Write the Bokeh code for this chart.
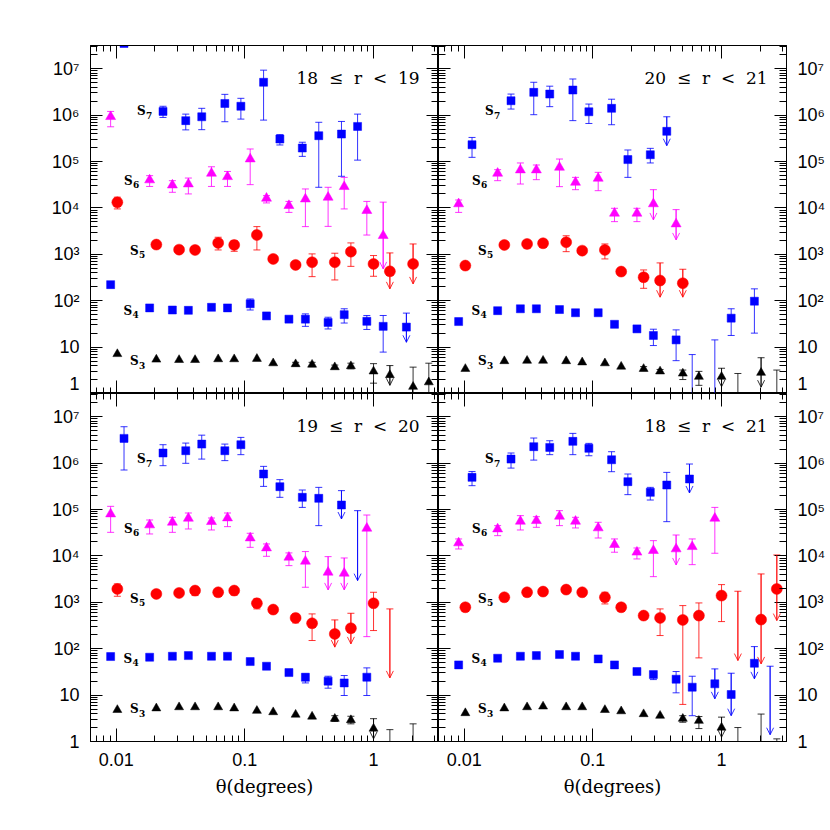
import math
from bokeh.plotting import figure
from bokeh.layouts import gridplot
from bokeh.models import (LogAxis, FixedTicker, CustomJSTickFormatter, Range1d,
                          Arrow, OpenHead, ColumnDataSource, Label)
from bokeh.core.properties import value
from bokeh.embed import file_html
from bokeh.resources import INLINE

# ---------------- data ----------------
# angular bins (degrees)
THETA_BINS = [0.0102, 0.0205, 0.0308, 0.041, 0.062, 0.0826, 0.124, 0.166,
              0.248, 0.333, 0.50, 0.667, 1.0, 1.34, 2.03, 2.69]

X_TICKS = [0.01, 0.1, 1.0]
Y_TICKS = [1, 10, 100, 1e3, 1e4, 1e5, 1e6, 1e7]
SERIES_ORDERS = [3, 4, 5, 6, 7]
PANEL_TITLES = ["18\u00a0 \u2264\u00a0 r\u00a0 <\u00a0 19", "20\u00a0 \u2264\u00a0 r\u00a0 <\u00a0 21",
                "19\u00a0 \u2264\u00a0 r\u00a0 <\u00a0 20", "18\u00a0 \u2264\u00a0 r\u00a0 <\u00a0 21"]
X_TITLE = "\u03b8(degrees)"

# rows: (bin index, S_N value [None = off scale], lower, upper, upper-limit flag)
# for upper limits "lower" is the tip of the arrow
TL_S3 = [(0, 7.1, None, None, 0), (1, 5.4, None, None, 0), (2, 5.3, None, None, 0),
         (3, 5.3, None, None, 0), (4, 5.5, None, None, 0), (5, 5.5, None, None, 0),
         (6, 5.6, None, None, 0), (7, 4.5, None, None, 0), (8, 4.3, 3.9, 4.7, 0),
         (9, 4.2, 3.8, 4.7, 0), (10, 3.7, 3.4, 4.1, 0), (11, 3.9, 3.4, 4.5, 0),
         (12, 3.0, 1.67, 4.4, 0), (13, 2.5, 1.5, 4.0, 1), (14, 1.4, 0.3, 3.7, 0),
         (15, 1.75, 0.3, 4.5, 0)]
TL_S4 = [(0, 222, None, None, 0), (1, 70, None, None, 0), (2, 63, None, None, 0),
         (3, 62, None, None, 0), (4, 72, None, None, 0), (5, 70, None, None, 0),
         (6, 86, 63, 109, 0), (7, 47, None, None, 0), (8, 40, None, None, 0),
         (9, 40, 28, 52, 0), (10, 34, 24.6, 44, 0), (11, 50, 33, 67, 0),
         (12, 36, 24, 48, 0), (13, 28, 7.8, 48, 0), (14, 27, 12.7, 54, 1)]
TL_S5 = [(0, 13200, 9500, 17000, 0), (1, 1620, None, None, 0), (2, 1260, None, None, 0),
         (3, 1240, None, None, 0), (4, 1760, 1240, 2330, 0), (5, 1590, 1160, 1970, 0),
         (6, 2610, 1240, 3950, 0), (7, 795, None, None, 0), (8, 590, None, None, 0),
         (9, 675, 330, 1020, 0), (10, 675, 280, 1055, 0), (11, 1140, 550, 1760, 0),
         (12, 620, 336, 940, 0), (13, 430, 180, 1070, 1), (14, 620, 230, 1670, 1)]
TL_S6 = [(0, 925000, 560000, 1.2e6, 0), (1, 40000, 29000, 49500, 0),
         (2, 31000, 21700, 38600, 0), (3, 32700, 20000, 44000, 0),
         (4, 55600, 29000, 77000, 0), (5, 47000, 29000, 61000, 0),
         (6, 113000, 31700, 186000, 0), (7, 16100, 12800, 18400, 0),
         (8, 11200, 8000, 13800, 0), (9, 15500, 3950, 25600, 0),
         (10, 16900, 4000, 27800, 0), (11, 28700, 9500, 45500, 0),
         (12, 8750, 2600, 13800, 0), (13, 2520, 485, 13300, 1)]
TL_S7 = [(0, 3.5e7, None, None, 0), (1, 1.2e6, 8.9e5, 1.55e6, 0),
         (2, 7.6e5, 4.8e5, 1.05e6, 0), (3, 9.2e5, 4.85e5, 1.4e6, 0),
         (4, 1.78e6, 7.2e5, 2.8e6, 0), (5, 1.55e6, 8.2e5, 2.3e6, 0),
         (6, 5.1e6, 7.8e5, 9.3e6, 0), (7, 3.05e5, 2.27e5, 3.8e5, 0),
         (8, 1.95e5, 1.29e5, 2.6e5, 0), (9, 3.6e5, 27800, 7e5, 0),
         (10, 3.9e5, 48000, 7.3e5, 0), (11, 5.7e5, 1.07e5, 1.05e6, 0)]

TR_S3 = [(0, 3.4, None, None, 0), (1, 5.0, None, None, 0), (2, 5.1, None, None, 0),
         (3, 5.1, None, None, 0), (4, 5.0, None, None, 0), (5, 4.7, None, None, 0),
         (6, 4.5, None, None, 0), (7, 3.8, None, None, 0), (8, 3.4, 3.1, 3.8, 0),
         (9, 3.0, 2.7, 3.3, 0), (10, 2.7, 2.0, 3.2, 0), (11, 2.3, 1.5, 3.0, 0),
         (12, 2.3, 1.4, 3.5, 1), (13, None, 0.3, 2.7, 0), (14, 2.8, 1.37, 5.9, 1),
         (15, None, 0.3, 3.2, 0)]
TR_S4 = [(0, 35.5, None, None, 0), (1, 61, None, None, 0), (2, 67, None, None, 0),
         (3, 67, None, None, 0), (4, 64.5, None, None, 0), (5, 55, None, None, 0),
         (6, 55, 50, 61, 0), (7, 31, None, None, 0), (8, 24.7, None, None, 0),
         (9, 17.8, 10.8, 24.3, 0), (10, 14.3, 5.1, 23.5, 0), (11, None, 0.3, 6.9, 0),
         (12, None, 0.3, 14.3, 0), (13, 42, 17.8, 67, 0), (14, 97.5, 20, 180, 0)]
TR_S5 = [(0, 571, None, None, 0), (1, 1590, None, None, 0), (2, 1670, 1350, 1950, 0),
         (3, 1730, None, None, 0), (4, 1820, 1140, 2510, 0), (5, 1200, None, None, 0),
         (6, 1240, 795, 1670, 0), (7, 424, None, None, 0), (8, 320, 185, 460, 0),
         (9, 272, 119, 652, 1), (10, 238, 119, 476, 1)]
TR_S6 = [(0, 12200, 8000, 14800, 0), (1, 55600, 38600, 66700, 0),
         (2, 65600, 32700, 93000, 0), (3, 65600, 40600, 84000, 0),
         (4, 74800, 28700, 113000, 0), (5, 35500, 24700, 45500, 0),
         (6, 43400, 23500, 58400, 0), (7, 7650, 5060, 9800, 0),
         (8, 7650, 5060, 9800, 0), (9, 12200, 5500, 24700, 1),
         (10, 4500, 2040, 9180, 1)]
TR_S7 = [(0, 2.3e5, 1.23e5, 3.3e5, 0), (1, 2.04e6, 1.35e6, 2.84e6, 0),
         (2, 3.09e6, 1.02e6, 5.1e6, 0), (3, 2.84e6, 1.52e6, 4.2e6, 0),
         (4, 3.47e6, 7.6e5, 6e6, 0), (5, 1.18e6, 6.6e5, 1.73e6, 0),
         (6, 1.4e6, 6.2e5, 2.2e6, 0), (7, 1.1e5, 45500, 1.77e5, 0),
         (8, 1.4e5, 93000, 1.92e5, 0), (9, 4.47e5, 2.19e5, 9.2e5, 1)]

BL_S3 = [(0, 4.8, None, None, 0), (1, 5.2, None, None, 0), (2, 5.5, None, None, 0),
         (3, 5.5, None, None, 0), (4, 5.5, None, None, 0), (5, 5.2, None, None, 0),
         (6, 4.6, None, None, 0), (7, 4.3, None, None, 0), (8, 3.8, None, None, 0),
         (9, 3.45, None, None, 0), (10, 3.1, 2.7, 3.6, 0), (11, 2.9, 2.4, 3.5, 0),
         (12, 1.9, 1.14, 3.1, 1), (13, None, 0.3, 1.8, 0), (14, None, 0.3, 2.4, 0)]
BL_S4 = [(0, 67.7, None, None, 0), (1, 65.5, None, None, 0), (2, 68.8, None, None, 0),
         (3, 71, None, None, 0), (4, 68.8, None, None, 0), (5, 68.8, None, None, 0),
         (6, 52.8, None, None, 0), (7, 41.9, None, None, 0), (8, 30.6, None, None, 0),
         (9, 24.3, 18.3, 28.7, 0), (10, 20, 14.1, 25.5, 0), (11, 18.3, 9.8, 26.4, 0),
         (12, 24.3, 9.8, 38.6, 0)]
BL_S5 = [(0, 1940, 1350, 2490, 0), (1, 1515, None, None, 0), (2, 1590, None, None, 0),
         (3, 1790, 1395, 2110, 0), (4, 1645, None, None, 0), (5, 1790, 1430, 2110, 0),
         (6, 953, 720, 1180, 0), (7, 697, None, None, 0), (8, 461, 360, 562, 0),
         (9, 353, 150, 562, 0), (10, 208, 108, 417, 1), (11, 276, 127, 580, 1),
         (12, 953, 246, 1645, 0), (13, None, 23.5, 720, 1)]
BL_S6 = [(0, 80000, 32200, 117000, 0), (1, 46400, 29700, 59400, 0),
         (2, 53000, 32200, 67800, 0), (3, 64600, 38000, 84100, 0),
         (4, 54700, 36200, 65600, 0), (5, 65600, 42700, 84100, 0),
         (6, 24300, 15300, 30700, 0), (7, 14800, 9800, 18100, 0),
         (8, 9330, 6170, 11600, 0), (9, 7650, 2110, 12400, 0),
         (10, 4440, 1850, 9640, 1), (11, 4220, 1850, 9020, 1),
         (12, 39300, 182, 76000, 0)]
BL_S7 = [(0, 3.41e6, 7.1e5, 6.08e6, 0), (1, 1.65e6, 8.8e5, 2.49e6, 0),
         (2, 1.85e6, 9.9e5, 2.7e6, 0), (3, 2.57e6, 1.22e6, 4.0e6, 0),
         (4, 1.85e6, 1.13e6, 2.57e6, 0), (5, 2.49e6, 1.52e6, 3.58e6, 0),
         (6, 5.82e5, 3.15e5, 8.5e5, 0), (7, 3.1e5, 1.83e5, 4.4e5, 0),
         (8, 1.83e5, 1.11e5, 2.63e5, 0), (9, 1.74e5, 44900, 3.0e5, 0),
         (10, 1.25e5, 62400, 2.55e5, 1), (11, None, 2930, 94400, 1)]

BR_S3 = [(0, 4.1, None, None, 0), (1, 5.2, None, None, 0), (2, 5.5, None, None, 0),
         (3, 5.7, None, None, 0), (4, 5.5, None, None, 0), (5, 5.5, None, None, 0),
         (6, 4.8, None, None, 0), (7, 4.5, None, None, 0), (8, 3.9, None, None, 0),
         (9, 3.6, None, None, 0), (10, 3.1, 2.6, 3.6, 0), (11, 2.8, 1.9, 3.45, 0),
         (12, 2.0, 1.24, 3.35, 1), (13, None, 0.3, 2.0, 0), (14, None, 0.3, 3.9, 0),
         (15, None, 0.3, 1.14, 0)]
BR_S4 = [(0, 44.8, None, None, 0), (1, 62.3, None, None, 0), (2, 68.8, None, None, 0),
         (3, 71, None, None, 0), (4, 74.8, None, None, 0), (5, 68.8, None, None, 0),
         (6, 60.3, None, None, 0), (7, 44.8, None, None, 0), (8, 32.2, None, None, 0),
         (9, 27.7, 21.6, 32.2, 0), (10, 22, 11.2, 32.2, 0), (11, 14.8, 3.6, 25.5, 0),
         (12, 17.5, 8.3, 36.7, 1), (13, 10.3, 3.6, 29.6, 1), (14, 48.6, 22.4, 111, 1),
         (15, None, 1.4, 41.9, 1)]
BR_S5 = [(0, 782, None, None, 0), (1, 1283, None, None, 0), (2, 1645, None, None, 0),
         (3, 1700, None, None, 0), (4, 1878, None, None, 0), (5, 1645, None, None, 0),
         (6, 1283, 922, 1645, 0), (7, 782, None, None, 0), (8, 517, 440, 600, 0),
         (9, 461, 192, 720, 0), (10, 417, 6.3, 849, 0), (11, 517, 63.4, 969, 0),
         (12, 1393, 384, 2405, 0), (13, None, 55.5, 1730, 1), (14, 424, 47, 4083, 1),
         (15, 1940, 404, 10470, 1)]
BR_S6 = [(0, 19000, 14100, 23200, 0), (1, 38000, 27300, 44900, 0),
         (2, 55600, 36200, 73700, 0), (3, 57500, 41300, 70100, 0),
         (4, 71300, 44900, 94400, 0), (5, 55600, 40000, 67800, 0),
         (6, 40000, 24300, 53000, 0), (7, 17500, 12000, 23200, 0),
         (8, 12000, 8600, 14800, 0), (9, 13000, 3570, 21300, 0),
         (10, 14100, 6380, 28200, 1), (11, 15800, 6480, 23200, 0),
         (12, 64500, 11400, 111000, 0)]
BR_S7 = [(0, 4.93e5, 3.26e5, 6.6e5, 0), (1, 1.22e6, 7.8e5, 1.65e6, 0),
         (2, 2.26e6, 1.16e6, 3.47e6, 0), (3, 2.18e6, 1.52e6, 3.03e6, 0),
         (4, 2.94e6, 1.52e6, 4.37e6, 0), (5, 2.08e6, 1.44e6, 2.66e6, 0),
         (6, 1.18e6, 6.53e5, 1.76e6, 0), (7, 3.98e5, 2.09e5, 5.82e5, 0),
         (8, 2.34e5, 1.6e5, 3.0e5, 0), (9, 3.37e5, 54700, 6.31e5, 0),
         (10, 4.54e5, 2.27e5, 9.55e5, 1)]

# series-name label anchors (theta, value) for S3..S7
LABEL_THETA = [0.0128, 0.0114, 0.0128, 0.0115, 0.0145]
LABEL_VALUE = [10**0.69, 10**1.78, 10**3.08, 10**4.58, 10**6.08]
TITLE_THETA = 2.28
TITLE_VALUE = 10**6.81

# ---------------- styles ----------------
X_RANGE = (10**-2.2, 10**0.505)
Y_RANGE = (1.0, 10**7.5)
X_SHIFT = {3: 1.0, 4: 0.887, 5: 1.0, 6: 0.887, 7: 1.127}
STYLE = {3: dict(marker="triangle", color="#000000", size=9),
         4: dict(marker="square", color="#0000ff", size=8),
         5: dict(marker="circle", color="#ff0000", size=11),
         6: dict(marker="triangle", color="#ff00ff", size=10),
         7: dict(marker="square", color="#0000ff", size=8)}
SANS = "Liberation Sans"
SERIF = "DejaVu Serif"

X_MINOR = [m * 10.0**k for k in (-3, -2, -1, 0) for m in range(2, 10)
           if X_RANGE[0] <= m * 10.0**k <= X_RANGE[1]]
Y_MINOR = [m * 10.0**k for k in range(0, 8) for m in range(2, 10)
           if m * 10.0**k <= Y_RANGE[1]]

Y_FMT = CustomJSTickFormatter(code="""
const e = Math.round(Math.log10(tick));
const sup = ["\u2070","\u00b9","\u00b2","\u00b3","\u2074","\u2075","\u2076","\u2077","\u2078","\u2079"];
if (e === 0) return "1";
if (e === 1) return "10";
return "10" + sup[e];
""")
X_FMT = CustomJSTickFormatter(code="""
if (tick >= 1) return tick.toFixed(0);
return String(parseFloat(tick.toPrecision(2)));
""")


def add_axis(p, dim, side, labeled):
    if dim == "x":
        ax = LogAxis(ticker=FixedTicker(ticks=X_TICKS, minor_ticks=X_MINOR))
        ax.major_tick_in, ax.minor_tick_in = 13, 6
    else:
        ax = LogAxis(ticker=FixedTicker(ticks=Y_TICKS, minor_ticks=Y_MINOR))
        ax.major_tick_in, ax.minor_tick_in = 12, 7
    ax.major_tick_out = 0
    ax.minor_tick_out = 0
    ax.axis_line_color = "black"
    ax.major_tick_line_color = "black"
    ax.minor_tick_line_color = "black"
    if labeled:
        ax.formatter = X_FMT if dim == "x" else Y_FMT
        ax.major_label_text_font = SANS
        ax.major_label_text_font_size = "18px"
        ax.major_label_text_color = "black"
        ax.major_label_standoff = 11
        if dim == "x":
            ax.axis_label = X_TITLE
            ax.axis_label_text_font = SERIF
            ax.axis_label_text_font_size = "18px"
            ax.axis_label_text_font_style = "normal"
            ax.axis_label_text_color = "black"
            ax.axis_label_standoff = 7
    else:
        ax.major_label_text_font_size = "0px"
        ax.major_label_standoff = 0
        ax.formatter = CustomJSTickFormatter(code="return '';")
    p.add_layout(ax, side)


def draw_series(p, rows, order):
    st = STYLE[order]
    c = st["color"]
    mx, mv = [], []
    bx, blo, bhi = [], [], []
    cx, cy = [], []
    ax_, ahi, atip = [], [], []
    for (i, v, lo, hi, lim) in rows:
        x = THETA_BINS[i] * X_SHIFT[order]
        if v is not None:
            mx.append(x)
            mv.append(v)
        if hi is None:
            continue
        bx.append(x); blo.append(lo); bhi.append(hi)
        cx.append(x); cy.append(hi)
        if lim:
            ax_.append(x); ahi.append(hi); atip.append(lo)
        else:
            cx.append(x); cy.append(lo)
    if bx:
        p.segment(x0=bx, y0=blo, x1=bx, y1=bhi, line_color=c, line_width=1, line_alpha=0.8)
        p.scatter(x=cx, y=cy, marker="dash", size=7, line_color=c, line_width=1, line_alpha=0.8)
    if ax_:
        src = ColumnDataSource(dict(x=ax_, hi=ahi, tip=atip))
        p.add_layout(Arrow(x_start="x", y_start="hi", x_end="x", y_end="tip", source=src,
                           line_color=c, line_alpha=0.8, line_width=1,
                           end=OpenHead(size=7, line_color=c, line_alpha=0.8, line_width=1)))
    if mx:
        p.scatter(x=mx, y=mv, marker=st["marker"], size=st["size"],
                  fill_color=c, line_color=c, line_width=0.5)


def make_panel(title, data, left, bottom):
    p = figure(frame_width=348, frame_height=348,
               x_axis_type="log", y_axis_type="log",
               x_range=Range1d(*X_RANGE), y_range=Range1d(*Y_RANGE),
               x_axis_location=None, y_axis_location=None,
               output_backend="svg", toolbar_location=None, tools="",
               min_border_left=90 if left else 0, min_border_right=0 if left else 40,
               min_border_top=0 if bottom else 45, min_border_bottom=70 if bottom else 0)
    p.xgrid.grid_line_color = None
    p.ygrid.grid_line_color = None
    p.outline_line_color = "black"
    p.outline_line_width = 1
    p.outline_line_alpha = 1
    p.background_fill_color = "white"
    p.border_fill_color = "white"
    add_axis(p, "x", "below", bottom)
    add_axis(p, "x", "above", False)
    add_axis(p, "y", "left", left)
    add_axis(p, "y", "right", not left)
    for order in SERIES_ORDERS:
        draw_series(p, data[order], order)
    # series names S_N
    p.text(x=LABEL_THETA, y=LABEL_VALUE, text=["S"] * 5, text_font=value(SERIF),
           text_font_style="bold", text_font_size="12px", text_align="left",
           text_baseline="middle", text_color="black")
    p.text(x=LABEL_THETA, y=LABEL_VALUE, text=[str(o) for o in SERIES_ORDERS],
           text_font=value(SERIF), text_font_style="bold", text_font_size="9px",
           text_align="left", text_baseline="middle", text_color="black",
           x_offset=9, y_offset=4)
    p.add_layout(Label(x=TITLE_THETA, y=TITLE_VALUE, text=title, text_font=SERIF,
                       text_font_size="17px", text_align="right", text_baseline="middle",
                       text_color="black"))
    return p


tl = make_panel(PANEL_TITLES[0], {3: TL_S3, 4: TL_S4, 5: TL_S5, 6: TL_S6, 7: TL_S7}, True, False)
tr = make_panel(PANEL_TITLES[1], {3: TR_S3, 4: TR_S4, 5: TR_S5, 6: TR_S6, 7: TR_S7}, False, False)
bl = make_panel(PANEL_TITLES[2], {3: BL_S3, 4: BL_S4, 5: BL_S5, 6: BL_S6, 7: BL_S7}, True, True)
br = make_panel(PANEL_TITLES[3], {3: BR_S3, 4: BR_S4, 5: BR_S5, 6: BR_S6, 7: BR_S7}, False, True)

grid = gridplot([[tl, tr], [bl, br]], toolbar_location=None)

with open("out.html", "w") as f:
    f.write(file_html(grid, INLINE))
